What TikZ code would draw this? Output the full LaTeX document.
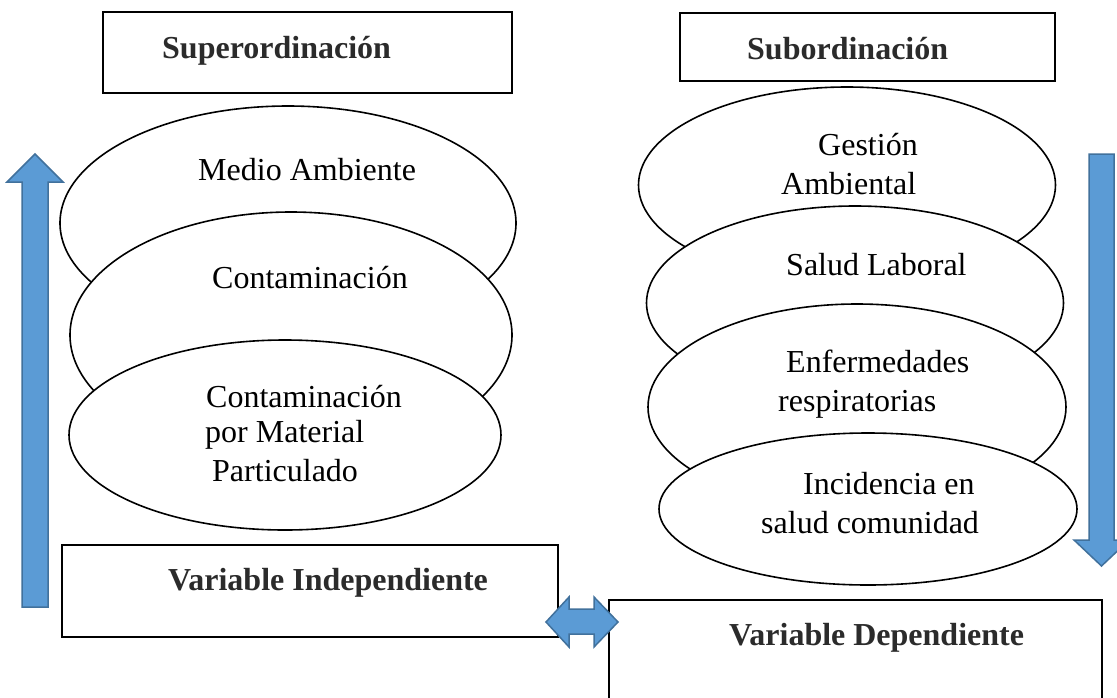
\documentclass[tikz,border=0pt]{standalone}
\usepackage{fontspec}
\setmainfont{Liberation Serif}
\usetikzlibrary{shapes.geometric}
\definecolor{arrowfill}{HTML}{5B9BD5}
\definecolor{arrowline}{HTML}{41719C}
\definecolor{headtext}{HTML}{2B2B2B}
\begin{document}
\begin{tikzpicture}[x=1pt,y=-1pt,
  ell/.style={ellipse, draw=black, fill=white, line width=1.6pt, inner sep=0pt},
  box/.style={rectangle, draw=black, fill=white, line width=2.2pt, inner sep=0pt},
  lbl/.style={anchor=base west, inner sep=0pt, font=\fontsize{32}{38}\selectfont},
  hlbl/.style={anchor=base west, inner sep=0pt, font=\fontsize{32}{38}\selectfont\bfseries, text=headtext},
  blockarrow/.style={fill=arrowfill, draw=arrowline, line width=1.5pt, line join=miter}]
\useasboundingbox (0,0) rectangle (1117,697);
\clip (0,0) rectangle (1117,697);
\fill[white] (0,0) rectangle (1117,697);

% top boxes
\node[box, minimum width=409pt, minimum height=81pt] (super) at (307.5,52.5) {};
\node[hlbl] (tsuper) at (162,58) {Superordinación};
\node[box, minimum width=375pt, minimum height=68pt] (sub) at (867.5,47) {};
\node[hlbl] (tsub) at (747,59) {Subordinación};

% left ellipses
\node[ell, minimum width=456pt, minimum height=234pt] (ma) at (288,223) {};
\node[lbl] (tma) at (198,180) {Medio Ambiente};
\node[ell, minimum width=442pt, minimum height=246pt] (co) at (291,335) {};
\node[lbl] (tco) at (212,288) {Contaminación};
\node[ell, minimum width=432pt, minimum height=190pt] (cp) at (285,435) {};
\node[lbl] (tcpa) at (206,407) {Contaminación};
\node[lbl] (tcpb) at (205,442) {por Material};
\node[lbl] (tcpc) at (212,481) {Particulado};

% right ellipses
\node[ell, minimum width=417pt, minimum height=196pt] (ga) at (847,185) {};
\node[lbl] (tgaa) at (818,155) {Gestión};
\node[lbl] (tgab) at (781,194) {Ambiental};
\node[ell, minimum width=417pt, minimum height=194pt] (sl) at (855,303) {};
\node[lbl] (tsl) at (786,275) {Salud Laboral};
\node[ell, minimum width=418pt, minimum height=206pt] (er) at (857,407) {};
\node[lbl] (tera) at (786,372) {Enfermedades};
\node[lbl] (terb) at (778,411) {respiratorias};
\node[ell, minimum width=418pt, minimum height=152pt] (ic) at (868,509) {};
\node[lbl] (tica) at (803,494) {Incidencia en};
\node[lbl] (ticb) at (761,533) {salud comunidad};

% bottom boxes
\node[box, minimum width=496pt, minimum height=92pt] (vi) at (310,591) {};
\node[hlbl] (tvi) at (168,590) {Variable Independiente};
\node[box, minimum width=493pt, minimum height=120pt] (vd) at (855.5,660) {};
\node[hlbl] (tvd) at (729,645) {Variable Dependiente};

% block arrows
\filldraw[blockarrow] (22,607) -- (22,182) -- (7,182) -- (35,154) -- (63,182) -- (48,182) -- (48,607) -- cycle;
\filldraw[blockarrow] (1089,154) -- (1089,540) -- (1074,540) -- (1101.5,566) -- (1129,540) -- (1114,540) -- (1114,154) -- cycle;
\filldraw[blockarrow] (546,622) -- (569,597) -- (569,609) -- (594,609) -- (594,597) -- (618,622) -- (594,647) -- (594,634) -- (569,634) -- (569,647) -- cycle;
\end{tikzpicture}
\end{document}
